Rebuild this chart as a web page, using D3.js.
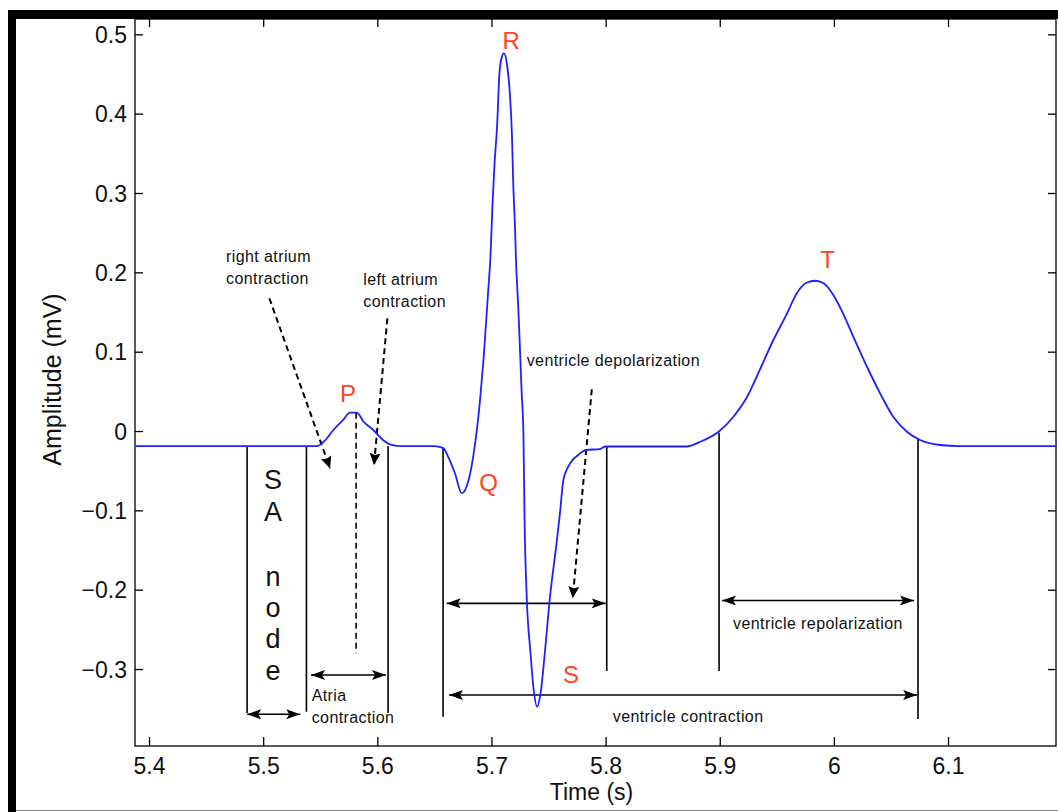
<!DOCTYPE html>
<html>
<head>
<meta charset="utf-8">
<script src="https://cdn.jsdelivr.net/npm/d3@7"></script>
<style>
  html, body { margin: 0; padding: 0; background: #fff; }
  svg { display: block; font-family: "Liberation Sans", Arial, Helvetica, sans-serif; }
</style>
</head>
<body>
<svg id="chart" width="1058" height="812"></svg>
<script>
// ---- data ----
const time = [5.388, 5.547, 5.553, 5.5615, 5.570, 5.576, 5.582, 5.588, 5.5965, 5.605, 5.611, 5.620, 5.649, 5.653, 5.658, 5.662, 5.668, 5.674, 5.680, 5.684, 5.690, 5.693, 5.697, 5.6992, 5.7009, 5.7027, 5.7049, 5.7069, 5.7088, 5.711, 5.7137, 5.716, 5.718, 5.719, 5.7207, 5.7215, 5.7236, 5.7265, 5.728, 5.729, 5.731, 5.734, 5.737, 5.740, 5.743, 5.747, 5.751, 5.757, 5.760, 5.763, 5.769, 5.776, 5.783, 5.795, 5.800, 5.871, 5.883, 5.899, 5.912, 5.924, 5.935, 5.947, 5.959, 5.9675, 5.976, 5.9835, 5.991, 5.9995, 6.008, 6.017, 6.029, 6.0405, 6.052, 6.064, 6.0755, 6.093, 6.110, 6.195];
const amplitude = [-0.019, -0.019, -0.0135, 0.0013, 0.0139, 0.0231, 0.0231, 0.0117, 0.0013, -0.0113, -0.0168, -0.019, -0.019, -0.0195, -0.0218, -0.0324, -0.0533, -0.0785, -0.0618, -0.0324, 0.0391, 0.0895, 0.1736, 0.2218, 0.2848, 0.3374, 0.3835, 0.4487, 0.4701, 0.4761, 0.4613, 0.4277, 0.3709, 0.3164, 0.2533, 0.2155, 0.1525, 0.0475, -0.0029, -0.1122, -0.213, -0.276, -0.3264, -0.3474, -0.3306, -0.276, -0.213, -0.1415, -0.1037, -0.0618, -0.0407, -0.0302, -0.0239, -0.0227, -0.0195, -0.0195, -0.0135, -0.0009, 0.018, 0.0432, 0.0769, 0.1147, 0.1483, 0.1736, 0.1869, 0.1894, 0.1862, 0.1714, 0.1483, 0.1189, 0.081, 0.0475, 0.018, -0.0009, -0.0113, -0.0176, -0.019, -0.019];

const xTicks = [5.4, 5.5, 5.6, 5.7, 5.8, 5.9, 6.0, 6.1];
const xTickLabels = ["5.4", "5.5", "5.6", "5.7", "5.8", "5.9", "6", "6.1"];
const yTicks = [-0.3, -0.2, -0.1, 0, 0.1, 0.2, 0.3, 0.4, 0.5];
const yTickLabels = ["\u22120.3", "\u22120.2", "\u22120.1", "0", "0.1", "0.2", "0.3", "0.4", "0.5"];

const waveLabels = ["P", "Q", "R", "S", "T"];
const waveLabelTime = [5.5743, 5.6974, 5.7172, 5.7697, 5.9944];
const waveLabelAmp = [0.0369, -0.0756, 0.4815, -0.3176, 0.2054];

// vertical interval boundaries
const boundaryTime = [5.4859, 5.5379, 5.6094, 5.6576, 5.8010, 5.8994, 6.0737];
const boundaryTop = [-0.019, -0.019, -0.019, -0.021, -0.019, -0.0025, -0.009];
const boundaryBottom = [-0.3554, -0.3537, -0.3554, -0.360, -0.3025, -0.3025, -0.363];

// double-headed interval arrows
const spanStart = [5.486, 5.5419, 5.6608, 5.902, 5.6628];
const spanEnd = [5.5325, 5.6076, 5.8001, 6.0702, 6.0729];
const spanAmp = [-0.357, -0.3075, -0.2172, -0.2136, -0.3327];

// dashed pointer arrows
const pointerFromTime = [5.5054, 5.6088, 5.7879];
const pointerFromAmp = [0.1673, 0.142, 0.0526];
const pointerToTime = [5.5586, 5.5971, 5.7712];
const pointerToAmp = [-0.0471, -0.0429, -0.2109];

// annotation texts
const noteText = ["right atrium", "contraction", "left atrium", "contraction", "ventricle depolarization", "ventricle repolarization", "ventricle contraction", "Atria", "contraction"];
const noteTime = [5.4675, 5.4675, 5.5877, 5.5877, 5.7309, 5.9117, 5.8063, 5.5425, 5.5425];
const noteAmp = [0.213, 0.1859, 0.184, 0.1567, 0.0819, -0.2496, -0.3664, -0.3399, -0.3677];

const saLetters = ["S", "A", "n", "o", "d", "e"];
const saTime = 5.5086;
const saAmp = [-0.0731, -0.1134, -0.1954, -0.2344, -0.2735, -0.3138];

// ---- drawing ----
const svg = d3.select("#chart");
const W = 1058, H = 812;
const plot = { left: 135, right: 1056, top: 19, bottom: 746 };

const x = d3.scaleLinear().domain([5.3877, 6.1946]).range([plot.left, plot.right]);
const y = d3.scaleLinear().domain([-0.397, 0.5193]).range([plot.bottom, plot.top]);

svg.append("rect").attr("width", W).attr("height", H).attr("fill", "#fff");

// defs: arrowheads
const defs = svg.append("defs");
defs.append("marker").attr("id", "head")
  .attr("markerUnits", "userSpaceOnUse")
  .attr("viewBox", "0 0 14 10").attr("markerWidth", 14).attr("markerHeight", 10)
  .attr("refX", 14).attr("refY", 5).attr("orient", "auto-start-reverse")
  .append("path").attr("d", "M0,0 L14,5 L0,10 L3,5 Z").attr("fill", "#000");
defs.append("marker").attr("id", "headDash")
  .attr("markerUnits", "userSpaceOnUse")
  .attr("viewBox", "0 0 12 11").attr("markerWidth", 12).attr("markerHeight", 11)
  .attr("refX", 12).attr("refY", 5.5).attr("orient", "auto")
  .append("path").attr("d", "M0,0 L12,5.5 L0,11 L2,5.5 Z").attr("fill", "#000");

// axes (ticks inward on all four sides)
const gx = svg.append("g").attr("transform", `translate(0,${plot.bottom})`)
  .call(d3.axisBottom(x).tickValues(xTicks).tickFormat((d, i) => xTickLabels[i])
    .tickSizeInner(-9).tickSizeOuter(0).tickPadding(12));
const gy = svg.append("g").attr("transform", `translate(${plot.left},0)`)
  .call(d3.axisLeft(y).tickValues(yTicks).tickFormat((d, i) => yTickLabels[i])
    .tickSizeInner(-8).tickSizeOuter(0).tickPadding(8));
const gt = svg.append("g").attr("transform", `translate(0,${plot.top})`)
  .call(d3.axisTop(x).tickValues(xTicks).tickFormat("").tickSizeInner(-8).tickSizeOuter(0));
const gr = svg.append("g").attr("transform", `translate(${plot.right},0)`)
  .call(d3.axisRight(y).tickValues(yTicks).tickFormat("").tickSizeInner(-8).tickSizeOuter(0));
[gx, gy, gt, gr].forEach(g => {
  g.select(".domain").remove();
  g.selectAll(".tick line").attr("stroke", "#000").attr("stroke-width", 1.3);
  g.selectAll(".tick text").attr("fill", "#111").style("font-size", "23px")
    .style("font-family", "'Liberation Sans', Arial, Helvetica, sans-serif");
});
gy.selectAll(".tick text").attr("dy", "0.36em");

svg.append("rect")
  .attr("x", plot.left).attr("y", plot.top)
  .attr("width", plot.right - plot.left).attr("height", plot.bottom - plot.top)
  .attr("fill", "none").attr("stroke", "#000").attr("stroke-width", 1.3);

// axis titles
svg.append("text").attr("x", (plot.left + plot.right) / 2 - 4).attr("y", 800)
  .attr("text-anchor", "middle").attr("fill", "#111").style("font-size", "23px")
  .text("Time (s)");
svg.append("text").attr("transform", `translate(61,${(plot.top + plot.bottom) / 2 - 3}) rotate(-90)`)
  .attr("text-anchor", "middle").attr("fill", "#111").style("font-size", "25px")
  .text("Amplitude (mV)");

// annotations: boundaries
svg.append("g").selectAll("line").data(boundaryTime).join("line")
  .attr("x1", d => x(d)).attr("x2", d => x(d))
  .attr("y1", (d, i) => y(boundaryTop[i])).attr("y2", (d, i) => y(boundaryBottom[i]))
  .attr("stroke", "#000").attr("stroke-width", 1.6);

// double-headed arrows
svg.append("g").selectAll("line").data(spanStart).join("line")
  .attr("x1", d => x(d)).attr("x2", (d, i) => x(spanEnd[i]))
  .attr("y1", (d, i) => y(spanAmp[i])).attr("y2", (d, i) => y(spanAmp[i]))
  .attr("stroke", "#000").attr("stroke-width", 1.6)
  .attr("marker-start", "url(#head)").attr("marker-end", "url(#head)");

// dashed pointers
svg.append("g").selectAll("line").data(pointerFromTime).join("line")
  .attr("x1", d => x(d)).attr("y1", (d, i) => y(pointerFromAmp[i]))
  .attr("x2", (d, i) => x(pointerToTime[i])).attr("y2", (d, i) => y(pointerToAmp[i]))
  .attr("stroke", "#000").attr("stroke-width", 2).attr("stroke-dasharray", "6,4")
  .attr("marker-end", "url(#headDash)");
svg.append("line")
  .attr("x1", x(5.5814)).attr("x2", x(5.5814)).attr("y1", y(0.0231)).attr("y2", y(-0.28))
  .attr("stroke", "#000").attr("stroke-width", 1.6).attr("stroke-dasharray", "6,4");

// ECG curve
const line = d3.line().x(d => x(d[0])).y(d => y(d[1])).curve(d3.curveMonotoneX);
svg.append("path").datum(time.map((t, i) => [t, amplitude[i]]))
  .attr("d", line).attr("fill", "none").attr("stroke", "#1f1fff")
  .attr("stroke-width", 1.8).attr("stroke-linejoin", "round");

// annotation texts
svg.append("g").selectAll("text").data(noteText).join("text")
  .attr("x", (d, i) => x(noteTime[i])).attr("y", (d, i) => y(noteAmp[i]))
  .attr("fill", "#111").style("font-size", "16px").style("letter-spacing", "0.4px")
  .text(d => d);

svg.append("g").selectAll("text").data(saLetters).join("text")
  .attr("x", x(saTime)).attr("y", (d, i) => y(saAmp[i]))
  .attr("text-anchor", "middle").attr("fill", "#111").style("font-size", "27px")
  .text(d => d);

// wave labels
svg.append("g").selectAll("text").data(waveLabels).join("text")
  .attr("x", (d, i) => x(waveLabelTime[i])).attr("y", (d, i) => y(waveLabelAmp[i]))
  .attr("text-anchor", "middle").attr("fill", "#ff4422").style("font-size", "24px")
  .text(d => d);

// screenshot frame
svg.append("rect").attr("x", 8).attr("y", 10).attr("width", 8).attr("height", H - 10).attr("fill", "#000");
svg.append("rect").attr("x", 8).attr("y", 10).attr("width", W - 8).attr("height", 9).attr("fill", "#000");
svg.append("line").attr("x1", 16).attr("x2", W).attr("y1", 810.5).attr("y2", 810.5)
  .attr("stroke", "#888").attr("stroke-width", 1);
</script>
</body>
</html>
